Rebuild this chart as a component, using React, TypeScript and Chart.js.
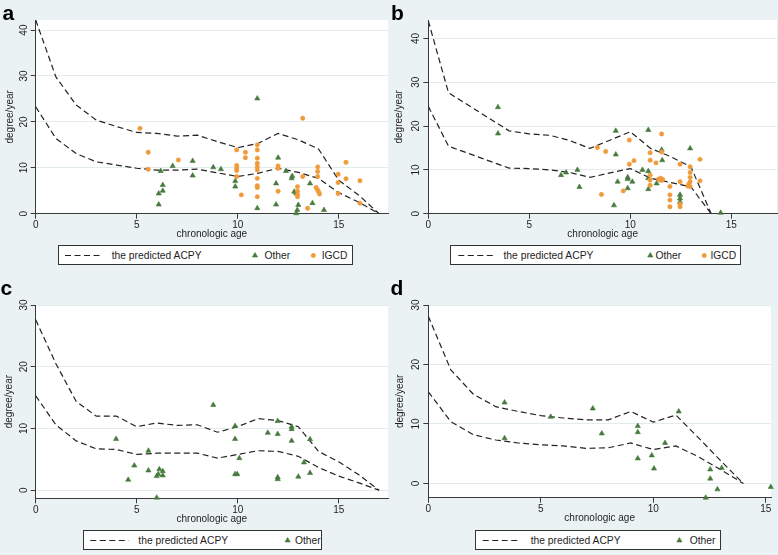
import React, { useEffect, useRef } from 'react';
import { Chart, registerables } from 'chart.js';

Chart.register(...registerables);

// ---------------- tick labels ----------------
const xTickValues = [0, 5, 10, 15];
const yTickValuesTop = [0, 10, 20, 30, 40];
const yTickValuesBottom = [0, 10, 20, 30];

// ---------------- panel a ----------------
const ageA = [0, 1, 2, 3, 4, 5, 6, 7, 8, 9, 10, 11, 12, 13, 14, 15, 16, 17];
const upperA = [42.2, 29.8, 23.7, 20.4, 19.0, 17.7, 17.5, 16.9, 17.1, 15.7, 14.4, 15.3, 17.5, 16.1, 14.1, 7.3, 4.0, 0];
const lowerA = [23.3, 16.4, 13.1, 11.3, 10.6, 9.9, 9.5, 9.5, 9.7, 8.9, 8.1, 8.8, 9.9, 9.0, 7.7, 4.6, 2.5, 0];
const otherA: [number, number][] = [
  [6.19, 9.3], [6.29, 6.25], [6.29, 5.0], [6.09, 4.4], [6.09, 2.0], [6.78, 10.4], [7.77, 11.5], [7.77, 8.3],
  [8.79, 10.1], [9.17, 9.7], [9.88, 7.1], [9.88, 5.9], [10.97, 25.1], [10.97, 1.2], [12.0, 12.2], [11.9, 6.6],
  [11.9, 2.0], [12.39, 9.3], [12.7, 8.2], [12.67, 7.7], [12.8, 4.8], [12.9, 4.4], [13.0, 1.9], [12.95, 0.8],
  [12.9, 0.1], [13.58, 6.6], [13.7, 2.3], [14.27, 0.8],
];
const igcdA: [number, number][] = [
  [5.16, 18.6], [5.57, 13.4], [5.57, 9.7], [7.06, 11.7], [9.95, 13.9], [10.38, 13.4], [10.38, 12.2], [9.95, 10.5],
  [9.95, 9.9], [9.95, 9.4], [9.95, 8.1], [10.18, 4.1], [10.97, 15.0], [10.97, 13.9], [10.97, 12.1], [10.97, 11.0],
  [10.97, 10.2], [10.97, 9.5], [10.97, 7.7], [10.97, 6.1], [10.97, 5.7], [10.97, 3.7], [12.0, 10.4], [12.0, 9.9],
  [12.0, 4.9], [13.22, 20.8], [13.22, 8.1], [12.96, 5.9], [12.96, 4.9], [12.96, 4.2], [12.96, 3.7], [13.46, 1.2],
  [13.96, 10.2], [13.96, 9.2], [13.96, 8.1], [13.88, 5.7], [13.95, 5.2], [14.0, 4.8], [14.05, 4.3], [14.97, 8.6],
  [14.97, 6.8], [14.97, 4.4], [15.36, 11.2], [15.36, 7.6], [16.05, 7.2], [16.05, 2.3],
];

// ---------------- panel b ----------------
const ageB = [0, 1, 4, 5, 6, 7, 8, 10, 11, 12, 13, 14];
const upperB = [44.0, 27.6, 18.9, 18.2, 17.9, 16.7, 14.9, 18.7, 14.9, 13.0, 10.7, 0];
const lowerB = [24.5, 15.4, 10.4, 10.3, 10.0, 9.4, 8.3, 10.3, 8.1, 7.1, 6.1, 0];
const otherB: [number, number][] = [
  [3.45, 24.3], [3.45, 18.3], [6.57, 8.8], [6.82, 9.4], [7.38, 10.0], [7.48, 6.1], [9.28, 18.9], [9.28, 13.5],
  [9.37, 7.3], [9.19, 1.9], [9.87, 8.3], [9.87, 7.9], [9.87, 5.8], [10.1, 7.3], [10.6, 10.0], [10.89, 19.1],
  [10.89, 9.7], [10.89, 8.1], [10.89, 5.6], [11.3, 6.9], [11.58, 12.2], [11.55, 14.6], [12.46, 4.3], [12.46, 3.5],
  [12.46, 2.7], [12.96, 14.9], [14.47, 0.2],
];
const igcdB: [number, number][] = [
  [8.37, 15.1], [8.78, 14.2], [8.57, 4.4], [9.65, 5.2], [9.95, 16.8], [9.95, 11.3], [10.18, 12.1], [10.98, 13.9],
  [10.98, 12.2], [10.98, 8.8], [10.98, 7.7], [10.98, 6.5], [11.27, 11.6], [11.4, 7.9], [11.45, 7.7], [11.5, 8.1],
  [11.55, 7.6], [11.6, 7.8], [11.55, 18.2], [11.55, 14.1], [11.96, 6.2], [11.96, 4.3], [11.96, 3.1], [11.96, 1.6],
  [12.46, 11.3], [12.46, 7.3], [12.46, 2.2], [12.46, 1.6], [12.96, 10.7], [12.96, 9.4], [12.96, 8.3], [12.96, 7.3],
  [12.9, 6.8], [12.96, 6.2], [12.85, 6.3], [13.45, 12.4], [13.45, 7.5],
];

// ---------------- panel c ----------------
const ageC = [0, 1, 2, 3, 4, 5, 6, 7, 8, 9, 10, 11, 12, 13, 14, 15, 16, 17];
const upperC = [27.6, 20.5, 14.4, 12.0, 12.0, 10.3, 10.9, 10.5, 10.6, 9.4, 10.3, 11.6, 11.3, 10.3, 6.3, 4.6, 2.5, 0];
const lowerC = [15.3, 10.6, 8.0, 6.7, 6.6, 5.8, 6.0, 6.0, 6.0, 5.2, 5.8, 6.4, 6.3, 5.5, 3.7, 2.3, 1.2, 0];
const otherC: [number, number][] = [
  [8.79, 13.8], [3.98, 8.3], [5.58, 6.4], [4.88, 4.0], [4.58, 1.7], [5.58, 3.2], [6.12, 3.4], [6.29, 3.1],
  [6.07, 2.6], [5.99, 2.3], [6.29, 2.4], [5.99, -1.2], [9.87, 10.4], [9.87, 8.3], [10.08, 5.2], [9.87, 2.6],
  [9.98, 2.6], [11.49, 9.3], [11.98, 11.2], [11.98, 9.1], [11.98, 2.1], [11.98, 1.8], [12.67, 10.3], [12.67, 9.9],
  [12.67, 8.0], [13.0, 2.2], [13.28, 4.5], [13.58, 8.25], [13.58, 2.8],
];

// ---------------- panel d ----------------
const ageD = [0, 1, 2, 3, 4, 5, 6, 7, 8, 9, 10, 11, 12, 13, 14];
const upperD = [28.1, 19.1, 15.0, 12.9, 12.1, 11.4, 11.0, 10.7, 10.7, 12.1, 10.3, 11.5, 7.7, 3.8, 0];
const lowerD = [15.4, 10.4, 8.2, 7.3, 6.8, 6.5, 6.3, 5.9, 6.0, 6.8, 5.7, 6.3, 4.5, 2.3, 0];
const otherD: [number, number][] = [
  [3.39, 13.6], [3.39, 7.6], [5.44, 11.2], [7.31, 12.6], [7.71, 8.4], [9.31, 9.65], [9.31, 8.6], [9.31, 4.2],
  [9.93, 4.7], [10.03, 2.5], [10.52, 6.8], [11.13, 12.1], [12.53, 2.35], [12.53, 0.8], [13.04, 2.6], [12.85, -1.0],
  [12.33, -2.4], [15.22, -0.6],
];

// ---------------- styles ----------------
const FONT = '"Liberation Sans", Arial, Helvetica, sans-serif';
const GREEN = '#477a3d';
const ORANGE = '#ef9b3b';
const LINE = '#222222';
const AXIS = '#3a3a3a';
const GRID = '#e2ebed';
const TEXT = '#1e1e1e';
const BG = '#eaf2f3';

type Rect = { l: number; t: number; w: number; h: number };
type Plot = { l: number; t: number; r: number; b: number };

interface PanelSpec {
  letter: string;
  letterPos: { l: number; t: number };
  canvas: Rect;
  plot: Plot;
  xMax: number;
  yMin: number;
  yMax: number;
  yTicks: number[];
  titlePad: number;
  age: number[];
  upper: number[];
  lower: number[];
  other: [number, number][];
  igcd: [number, number][] | null;
  legend: {
    box: Rect;
    dash: [number, number];
    textX: number;
    triX: number;
    otherX: number;
    dotX?: number;
    igcdX?: number;
  };
}

const panels: PanelSpec[] = [
  {
    letter: 'a', letterPos: { l: 2.5, t: 2.2 },
    canvas: { l: 0, t: 0, w: 396, h: 242 }, plot: { l: 35.7, t: 20, r: 388, b: 213.7 },
    xMax: 17.44, yMin: 0, yMax: 42.2, yTicks: yTickValuesTop, titlePad: 4,
    age: ageA, upper: upperA, lower: lowerA, other: otherA, igcd: igcdA,
    legend: { box: { l: 58, t: 245, w: 295, h: 20 }, dash: [65, 100], textX: 111.7, triX: 255, otherX: 264.5, dotX: 313.3, igcdX: 321.7 },
  },
  {
    letter: 'b', letterPos: { l: 391, t: 1.5 },
    canvas: { l: 388, t: 0, w: 397, h: 242 }, plot: { l: 428.3, t: 20, r: 777, b: 213.7 },
    xMax: 17.26, yMin: 0, yMax: 44.2, yTicks: yTickValuesTop, titlePad: 5.5,
    age: ageB, upper: upperB, lower: lowerB, other: otherB, igcd: igcdB,
    legend: { box: { l: 449.7, t: 245, w: 291.6, h: 20 }, dash: [458, 494.7], textX: 503.5, triX: 650, otherX: 655.5, dotX: 704, igcdX: 710.5 },
  },
  {
    letter: 'c', letterPos: { l: 0.5, t: 277.2 },
    canvas: { l: 0, t: 275, w: 396, h: 252 }, plot: { l: 35.7, t: 305, r: 388, b: 498.3 },
    xMax: 17.44, yMin: -1.3, yMax: 30, yTicks: yTickValuesBottom, titlePad: 3.5,
    age: ageC, upper: upperC, lower: lowerC, other: otherC, igcd: null,
    legend: { box: { l: 82.7, t: 530, w: 239, h: 20 }, dash: [90, 128.3], textX: 138.3, triX: 287.3, otherX: 295 },
  },
  {
    letter: 'd', letterPos: { l: 390.5, t: 277.2 },
    canvas: { l: 388, t: 275, w: 391, h: 252 }, plot: { l: 428.3, t: 305, r: 771, b: 497.7 },
    xMax: 15.23, yMin: -2.4, yMax: 30, yTicks: yTickValuesBottom, titlePad: 6.5,
    age: ageD, upper: upperD, lower: lowerD, other: otherD, igcd: null,
    legend: { box: { l: 475.3, t: 530, w: 246, h: 20 }, dash: [483, 519.7], textX: 530.7, triX: 679.7, otherX: 689.7 },
  },
];

const X_AXIS_H = 28;

const plotBg = {
  id: 'plotBg',
  beforeDraw(chart: any) {
    const { ctx, chartArea } = chart;
    if (!chartArea) return;
    ctx.save();
    ctx.fillStyle = '#ffffff';
    ctx.fillRect(chartArea.left, chartArea.top, chartArea.right - chartArea.left, chartArea.bottom - chartArea.top);
    ctx.restore();
  },
};

const toPts = (xs: number[], ys: number[]) => xs.map((x, i) => ({ x, y: ys[i] }));
const fromPairs = (arr: [number, number][]) => arr.map(([x, y]) => ({ x, y }));

function Panel({ spec }: { spec: PanelSpec }) {
  const ref = useRef<HTMLCanvasElement>(null);
  useEffect(() => {
    const s = spec;
    const c = ref.current;
    if (!c) return;
    const yW = s.plot.l - s.canvas.l;
    const pad = {
      left: 0,
      top: s.plot.t - s.canvas.t,
      right: s.canvas.l + s.canvas.w - s.plot.r,
      bottom: s.canvas.t + s.canvas.h - s.plot.b - X_AXIS_H,
    };
    const lineStyle = {
      showLine: true,
      borderColor: LINE,
      borderWidth: 1.2,
      borderDash: [6, 3.5],
      pointRadius: 0,
      pointHoverRadius: 0,
      fill: false,
      tension: 0,
      order: 3,
    };
    const datasets: any[] = [
      { label: 'upper', data: toPts(s.age, s.upper), ...lineStyle },
      { label: 'lower', data: toPts(s.age, s.lower), ...lineStyle },
      {
        label: 'Other', data: fromPairs(s.other), pointStyle: 'triangle', pointRadius: 3,
        backgroundColor: GREEN, borderColor: GREEN, borderWidth: 0.6, showLine: false, clip: false, order: 2,
      },
    ];
    if (s.igcd) {
      datasets.push({
        label: 'IGCD', data: fromPairs(s.igcd), pointStyle: 'circle', pointRadius: 2.2,
        backgroundColor: ORANGE, borderColor: ORANGE, borderWidth: 0.5, showLine: false, clip: false, order: 1,
      });
    }
    const tickFont = { family: FONT, size: 10 };
    const chart = new Chart(c, {
      type: 'scatter',
      data: { datasets },
      options: {
        responsive: false,
        animation: false,
        events: [],
        layout: { padding: pad },
        plugins: { legend: { display: false }, tooltip: { enabled: false } },
        scales: {
          x: {
            type: 'linear',
            min: 0,
            max: s.xMax,
            afterBuildTicks: (sc: any) => { sc.ticks = xTickValues.map((v) => ({ value: v })); },
            afterFit: (sc: any) => { sc.height = X_AXIS_H; },
            grid: { drawOnChartArea: false, drawTicks: true, tickLength: 5, tickColor: AXIS, tickWidth: 1 },
            border: { display: true, color: AXIS, width: 1 },
            ticks: { padding: 1, color: TEXT, font: tickFont, maxRotation: 0, autoSkip: false },
            title: { display: true, text: 'chronologic age', color: TEXT, font: tickFont, padding: { top: 0, bottom: 1 } },
          },
          y: {
            type: 'linear',
            min: s.yMin,
            max: s.yMax,
            afterBuildTicks: (sc: any) => { sc.ticks = s.yTicks.map((v) => ({ value: v })); },
            afterFit: (sc: any) => { sc.width = yW; },
            grid: { color: GRID, lineWidth: 1, drawTicks: true, tickLength: 5, tickColor: AXIS, tickWidth: 1 },
            border: { display: true, color: AXIS, width: 1 },
            ticks: { padding: 1, color: TEXT, font: tickFont, minRotation: 90, maxRotation: 90, crossAlign: 'center', autoSkip: false },
            title: { display: true, text: 'degree/year', color: TEXT, font: tickFont, padding: { top: s.titlePad, bottom: 0 } },
          },
        },
      } as any,
      plugins: [plotBg],
    });
    return () => chart.destroy();
  }, [spec]);
  return (
    <canvas
      ref={ref}
      width={spec.canvas.w}
      height={spec.canvas.h}
      style={{ position: 'absolute', left: spec.canvas.l, top: spec.canvas.t, width: spec.canvas.w, height: spec.canvas.h }}
    />
  );
}

function Legend({ spec }: { spec: PanelSpec }) {
  const L = spec.legend;
  const b = L.box;
  const cy = b.h / 2 + 0.5;
  const textStyle = (x: number): React.CSSProperties => ({
    position: 'absolute', left: x, top: b.t, height: b.h, lineHeight: `${b.h + 1}px`,
    fontSize: 10.3, fontFamily: FONT, color: TEXT, whiteSpace: 'nowrap',
  });
  const tri = (cx: number) => {
    const r = 3;
    const pts = [0, 1, 2].map((k) => {
      const a = (k * 2 * Math.PI) / 3;
      return `${cx + Math.sin(a) * r},${cy - Math.cos(a) * r}`;
    });
    return pts.join(' ');
  };
  return (
    <>
      <div style={{ position: 'absolute', left: b.l, top: b.t, width: b.w, height: b.h, boxSizing: 'border-box', border: '1px solid #333', background: '#fff' }} />
      <svg style={{ position: 'absolute', left: b.l, top: b.t, overflow: 'visible' }} width={b.w} height={b.h}>
        <line x1={L.dash[0] - b.l} y1={cy} x2={L.dash[1] - b.l} y2={cy} stroke={LINE} strokeWidth={1.2} strokeDasharray="6 3.5" />
        <polygon points={tri(L.triX - b.l)} fill={GREEN} stroke={GREEN} strokeWidth={0.6} />
        {L.dotX !== undefined && <circle cx={L.dotX - b.l} cy={cy} r={2.2} fill={ORANGE} stroke={ORANGE} strokeWidth={0.5} />}
      </svg>
      <span style={textStyle(L.textX)}>the predicted ACPY</span>
      <span style={textStyle(L.otherX)}>Other</span>
      {L.igcdX !== undefined && <span style={textStyle(L.igcdX)}>IGCD</span>}
    </>
  );
}

export default function App() {
  return (
    <div style={{ position: 'fixed', left: 0, top: 0, width: 778, height: 555, background: BG, overflow: 'hidden' }}>
      {panels.map((p) => (
        <React.Fragment key={p.letter}>
          <Panel spec={p} />
          <Legend spec={p} />
          <div style={{ position: 'absolute', left: p.letterPos.l, top: p.letterPos.t, fontFamily: FONT, fontWeight: 700, fontSize: 21, lineHeight: '21px', color: '#000' }}>
            {p.letter}
          </div>
        </React.Fragment>
      ))}
    </div>
  );
}
